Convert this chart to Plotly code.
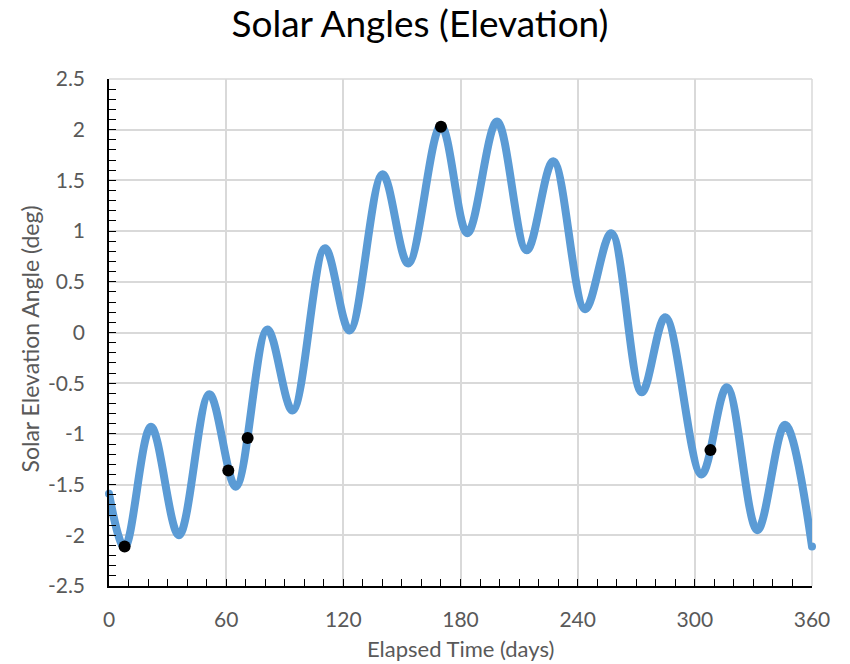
import plotly.graph_objects as go

# Elevation curve (day, deg) at turning points
days = [0, 8, 21.5, 35.8, 51.4, 64.9, 81.1, 94.0, 110.6, 123.2, 140.1, 153.2,
        170.0, 183.5, 198.7, 213.9, 227.5, 243.8, 257.2, 272.8, 284.9, 303.4,
        316.4, 332.0, 346.2, 360]
elev = [-1.59, -2.12, -0.93, -2.00, -0.61, -1.52, 0.03, -0.77, 0.83, 0.02, 1.56, 0.68,
        2.04, 0.98, 2.08, 0.81, 1.69, 0.23, 0.98, -0.59, 0.15, -1.40,
        -0.54, -1.95, -0.91, -2.11]

# Highlighted points
pt_days = [8.0, 61.1, 71.0, 170.0, 308.0]
pt_elev = [-2.11, -1.36, -1.04, 2.03, -1.16]

x_ticks = [0, 60, 120, 180, 240, 300, 360]
y_ticks = [2.5, 2, 1.5, 1, 0.5, 0, -0.5, -1, -1.5, -2, -2.5]
y_labels = ["2.5", "2", "1.5", "1", "0.5", "0", "-0.5", "-1", "-1.5", "-2", "-2.5"]

FONT = "Lato"
GRAY = "#595959"
BLUE = "#5b9bd5"
GRID = "#d9d9d9"

fig = go.Figure()
fig.add_trace(go.Scatter(
    x=days, y=elev, mode="lines",
    line=dict(color=BLUE, width=8, shape="spline", smoothing=1.0),
    hoverinfo="skip", showlegend=False))
# rounded line ends (drawn at the first and last data points)
fig.add_trace(go.Scatter(
    x=[days[0], days[-1]], y=[elev[0], elev[-1]], mode="markers",
    marker=dict(color=BLUE, size=8), cliponaxis=False,
    hoverinfo="skip", showlegend=False))
fig.add_trace(go.Scatter(
    x=pt_days, y=pt_elev, mode="markers",
    marker=dict(color="#000000", size=12),
    showlegend=False))

# border gridlines at the top and right edge of the plot area
fig.add_shape(type="line", xref="paper", yref="paper", x0=0, x1=1, y0=1, y1=1,
              line=dict(color=GRID, width=1.5), layer="below")
fig.add_shape(type="line", xref="paper", yref="paper", x0=1, x1=1, y0=0, y1=1,
              line=dict(color=GRID, width=1.5), layer="below")

# axis titles
fig.add_annotation(text="Elapsed Time (days)", xref="paper", yref="paper",
                   x=0.5, y=-0.124, xanchor="center", yanchor="middle",
                   showarrow=False, font=dict(family=FONT, size=22, color=GRAY))
fig.add_annotation(text="Solar Elevation Angle (deg)", xref="paper", yref="paper",
                   x=-0.1117, y=0.4872, xanchor="center", yanchor="middle",
                   textangle=-90, showarrow=False,
                   font=dict(family=FONT, size=23, color=GRAY))

fig.update_layout(
    width=850, height=664,
    margin=dict(l=109, r=38, t=79, b=78),
    paper_bgcolor="white", plot_bgcolor="white",
    title=dict(text="Solar Angles (Elevation)", x=420 / 850, xanchor="center",
               y=1 - 24 / 664, yanchor="middle", yref="container",
               font=dict(family=FONT, size=37, color="#000000")),
    font=dict(family=FONT, color=GRAY),
)
fig.update_xaxes(
    range=[0, 360], tickvals=x_ticks, ticktext=[str(v) for v in x_ticks],
    showgrid=True, gridcolor=GRID, gridwidth=1.5, zeroline=False,
    showline=True, linecolor="#000000", linewidth=1.5,
    ticks="inside", ticklen=7, tickcolor="#000000", tickwidth=1.2,
    minor=dict(dtick=10, ticks="inside", ticklen=7, tickcolor="#000000", tickwidth=1.2, showgrid=False),
    tickfont=dict(family=FONT, size=21, color=GRAY),
    ticklabelstandoff=14, automargin=False,
)
fig.update_yaxes(
    range=[-2.5, 2.5], tickvals=y_ticks, ticktext=y_labels,
    showgrid=True, gridcolor=GRID, gridwidth=1.5, zeroline=False,
    showline=True, linecolor="#000000", linewidth=1.5,
    ticks="inside", ticklen=7, tickcolor="#000000", tickwidth=1.2,
    minor=dict(dtick=0.1, ticks="inside", ticklen=7, tickcolor="#000000", tickwidth=1.2, showgrid=False),
    tickfont=dict(family=FONT, size=21, color=GRAY),
    ticklabelstandoff=18, automargin=False,
)

fig.write_html("out.html")
